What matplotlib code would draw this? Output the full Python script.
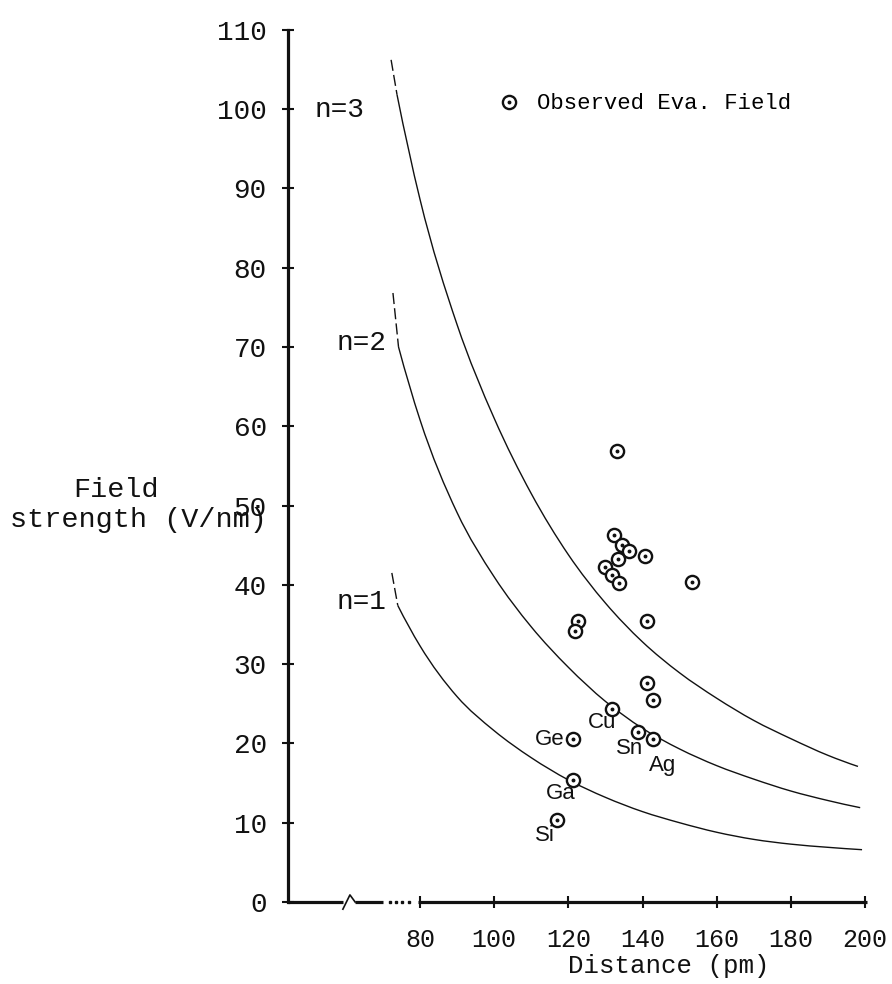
import matplotlib
matplotlib.use("Agg")
import matplotlib.pyplot as plt
from matplotlib.lines import Line2D
from matplotlib.legend_handler import HandlerTuple
from matplotlib.path import Path
from matplotlib.patches import PathPatch

TYPE = ["Liberation Mono", "DejaVu Sans Mono"]
LETTER = ["Liberation Sans Narrow", "Liberation Sans", "DejaVu Sans"]
INK = "#111111"

# Evaporation-field curves for charge states n = 1, 2, 3 (field in V/nm vs distance in pm)
n1_x = [74.0, 80.0, 90.0, 100.0, 110.0, 120.0, 130.0, 140.0, 150.0, 160.0, 170.0, 180.0, 190.0, 199.2]
n1_y = [37.4, 32.3, 25.9, 21.6, 18.2, 15.4, 13.2, 11.4, 10.0, 8.8, 7.9, 7.3, 6.9, 6.6]
n2_x = [74.2, 80.0, 90.0, 100.0, 110.0, 120.0, 130.0, 140.0, 150.0, 160.0, 170.0, 180.0, 190.0, 198.7]
n2_y = [70.0, 60.8, 49.1, 41.0, 34.7, 29.6, 25.3, 21.9, 19.3, 17.2, 15.5, 14.0, 12.8, 11.9]
n3_x = [73.8, 80.0, 90.0, 100.0, 110.0, 120.0, 130.0, 140.0, 150.0, 160.0, 170.0, 180.0, 190.0, 198.1]
n3_y = [101.8, 88.6, 72.8, 61.0, 51.5, 43.8, 37.7, 32.8, 28.9, 25.7, 22.9, 20.6, 18.5, 17.1]

# extrapolated (dashed) beginnings of the curves
n1_head_x = [72.4, 74.0]
n1_head_y = [41.5, 37.4]
n2_head_x = [72.7, 74.2]
n2_head_y = [76.8, 70.0]
n3_head_x = [72.2, 73.8]
n3_head_y = [106.2, 101.8]

curve_names = ["n=1", "n=2", "n=3"]

# observed evaporation fields
obs_x = [133.1, 132.4, 134.6, 136.4, 133.5, 129.9, 131.7, 133.7, 140.7, 153.3, 141.3, 122.7, 121.8, 141.1, 142.7]
obs_y = [56.9, 46.3, 45.0, 44.3, 43.3, 42.2, 41.2, 40.2, 43.6, 40.3, 35.4, 35.4, 34.2, 27.6, 25.5]

# observed fields with element names
elem_names = ["Cu", "Sn", "Ag", "Ge", "Ga", "Si"]
elem_x = [131.7, 138.8, 142.9, 121.3, 121.2, 117.0]
elem_y = [24.4, 21.5, 20.5, 20.5, 15.4, 10.3]

x_ticks = [80, 100, 120, 140, 160, 180, 200]
y_ticks = [0, 10, 20, 30, 40, 50, 60, 70, 80, 90, 100, 110]


def smooth_path(xs, ys):
    """Cubic Hermite curve y(x) through the points, written as Bezier segments."""
    n = len(xs)
    h = [xs[i + 1] - xs[i] for i in range(n - 1)]
    d = [(ys[i + 1] - ys[i]) / h[i] for i in range(n - 1)]
    m = [0.0] * n
    for i in range(1, n - 1):
        m[i] = (d[i - 1] * h[i] + d[i] * h[i - 1]) / (h[i - 1] + h[i])
    m[0] = ((2 * h[0] + h[1]) * d[0] - h[0] * d[1]) / (h[0] + h[1])
    m[-1] = ((2 * h[-1] + h[-2]) * d[-1] - h[-1] * d[-2]) / (h[-1] + h[-2])
    verts = [(xs[0], ys[0])]
    codes = [Path.MOVETO]
    for i in range(n - 1):
        t = h[i] / 3
        verts += [(xs[i] + t, ys[i] + m[i] * t),
                  (xs[i + 1] - t, ys[i + 1] - m[i + 1] * t),
                  (xs[i + 1], ys[i + 1])]
        codes += [Path.CURVE4] * 3
    return Path(verts, codes)


fig = plt.figure(figsize=(8.92, 9.84), dpi=100)
ax = fig.add_axes([0.3233, 0.0833, 0.6506, 0.8865])
ax.set_xlim(44.5, 201)
ax.set_ylim(0, 110)

for s in ("top", "right", "bottom"):
    ax.spines[s].set_visible(False)
ax.spines["left"].set_linewidth(2.3)
ax.spines["left"].set_color(INK)

# curves
curves = [(n1_x, n1_y, n1_head_x, n1_head_y),
          (n2_x, n2_y, n2_head_x, n2_head_y),
          (n3_x, n3_y, n3_head_x, n3_head_y)]
for cx, cy, hx, hy in curves:
    ax.add_patch(PathPatch(smooth_path(cx, cy), fill=False, ec=INK, lw=1.0))
    ax.plot(hx, hy, color=INK, lw=1.0, dashes=(8, 3))

label_pos = [(64.3, 37.8), (64.3, 70.5), (58.4, 99.9)]
for name, (lx, ly) in zip(curve_names, label_pos):
    ax.text(lx, ly, name, family=TYPE, fontsize=20, ha="center", va="center", color=INK)

# observed points: ring with a centre dot
ring = dict(marker="o", ms=9.5, mfc="white", mec=INK, mew=1.7, ls="none")
dot = dict(marker="o", ms=1.8, mfc=INK, mec=INK, ls="none")
ax.plot(obs_x, obs_y, **ring, zorder=3)
ax.plot(obs_x, obs_y, **dot, zorder=4)
ax.plot(elem_x, elem_y, **ring, zorder=3)
ax.plot(elem_x, elem_y, **dot, zorder=4)

elem_offsets = [(-7, -10), (-6, -12), (7, -19), (-17, 0), (-9, -10), (-9, -11)]
for name, ex, ey, off in zip(elem_names, elem_x, elem_y, elem_offsets):
    ax.annotate(name, (ex, ey), xytext=off, textcoords="offset points",
                ha="center", va="center", family=LETTER, fontsize=16, color=INK)

# legend
h_ring = Line2D([], [], **ring)
h_dot = Line2D([], [], **dot)
ax.legend(handles=[(h_ring, h_dot)], labels=["Observed Eva. Field"],
          handler_map={tuple: HandlerTuple(ndivide=1, pad=0)},
          loc="center left", bbox_to_anchor=(0.341, 0.915), frameon=False,
          borderpad=0, handlelength=1.0, handletextpad=0.8,
          prop={"family": TYPE, "size": 16})

# x axis with a break between the origin and 80 pm
axis_kw = dict(color=INK, lw=2.3, clip_on=False, solid_capstyle="butt")
ax.plot([44.5, 59.2], [0, 0], **axis_kw)
ax.plot([59.2, 61.1, 62.5], [-0.9, 0.9, 0], color=INK, lw=1.2, clip_on=False)
ax.plot([62.5, 70.0], [0, 0], **axis_kw)
ax.plot([71.8, 73.5, 75.2, 76.9], [0, 0, 0, 0], ls="none", marker="s", ms=1.6,
        color=INK, clip_on=False)
ax.plot([79.5, 200.5], [0, 0], **axis_kw)

ax.set_xticks(x_ticks)
ax.set_xticklabels([str(v) for v in x_ticks], family=TYPE, fontsize=18)
ax.set_yticks(y_ticks)
ax.set_yticklabels([str(v) for v in y_ticks], family=TYPE, fontsize=20)
ax.tick_params(axis="x", direction="inout", length=9, width=1.5, color=INK,
               pad=14, labelcolor=INK)
ax.tick_params(axis="y", direction="inout", length=9, width=1.5, color=INK,
               pad=11, labelcolor=INK)

fig.text(0.0818, 0.4949, "Field", family=TYPE, fontsize=20.5, ha="left",
         va="baseline", color=INK)
fig.text(0.0112, 0.4644, "strength (V/nm)", family=TYPE, fontsize=20.5, ha="left",
         va="baseline", color=INK)
fig.text(0.75, 0.0183, "Distance (pm)", family=TYPE, fontsize=18.5, ha="center",
         va="center", color=INK)

fig.savefig("out.png", dpi=100, facecolor="white")
